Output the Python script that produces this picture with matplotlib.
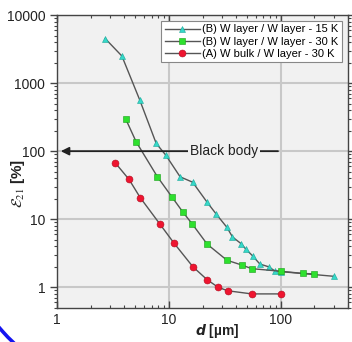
import matplotlib
matplotlib.use("Agg")
import matplotlib.pyplot as plt
from matplotlib.patches import Arc

# (B) W layer / W layer - 15 K
d_15k = [2.7, 3.8, 5.5, 7.7, 9.4, 12.6, 16.3, 22, 26.6, 33, 37, 44, 49, 56, 65, 78, 88, 100, 300]
e_15k = [4500, 2500, 560, 130, 87, 42, 35, 17.7, 11.8, 7.6, 5.5, 4.4, 3.6, 2.9, 2.2, 2.0, 1.75, 1.7, 1.45]

# (B) W layer / W layer - 30 K
d_30k = [4.1, 5.1, 7.9, 10.7, 13.4, 16.1, 22, 33, 45, 55, 100, 158, 200]
e_30k = [300, 137, 42, 21, 12.6, 8.6, 4.3, 2.5, 2.12, 1.88, 1.72, 1.6, 1.57]

# (A) W bulk / W layer - 30 K
d_bulk = [3.3, 4.4, 5.55, 8.35, 11, 16.4, 22, 27.6, 33.5, 55, 100]
e_bulk = [68, 38.5, 20.7, 8.4, 4.55, 2.0, 1.29, 1.0, 0.89, 0.8, 0.8]

labels = ["(B) W layer / W layer - 15 K",
          "(B) W layer / W layer - 30 K",
          "(A) W bulk / W layer - 30 K"]

black_body = 100

plt.rcParams["font.family"] = ["Liberation Sans", "DejaVu Sans"]

fig = plt.figure(figsize=(3.52, 3.42), dpi=100, facecolor="white")
ax = fig.add_axes([0.162, 0.10, 0.827, 0.856])
ax.set_facecolor("#f1f1f1")

line_kw = dict(color="#555555", lw=1.0, markersize=5, markeredgewidth=0.4)
ax.plot(d_15k, e_15k, marker="^", markerfacecolor="#35d8c8", markeredgecolor="#1aa89a",
        label=labels[0], **line_kw)
ax.plot(d_30k, e_30k, marker="s", markerfacecolor="#2ee02e", markeredgecolor="#18a018",
        label=labels[1], **line_kw)
ax.plot(d_bulk, e_bulk, marker="o", markerfacecolor="#ee1530", markeredgecolor="#b00d20",
        label=labels[2], **line_kw)

ax.set_xscale("log")
ax.set_yscale("log")
ax.set_xlim(1, 400)
ax.set_ylim(0.5, 10000)

ax.grid(True, which="major", color="#c8c8c8", lw=1.5, zorder=0)
ax.set_axisbelow(True)

# black body reference arrow
ax.annotate("", xy=(1.02, black_body), xytext=(100, black_body),
            arrowprops=dict(arrowstyle="-|>", color="#222222", lw=1.3,
                            mutation_scale=12))
ax.text(15.5, black_body, "Black body", fontsize=10, va="center", ha="left",
        color="#222222", bbox=dict(facecolor="#f1f1f1", edgecolor="none", pad=1.5))

for s in ax.spines.values():
    s.set_color("#444444")
    s.set_linewidth(1.0)

ax.tick_params(axis="both", which="both", colors="#444444", labelcolor="#222222",
               labelsize=10, top=True, right=True)
ax.tick_params(axis="both", which="major", length=5, width=1.0)
ax.tick_params(axis="both", which="minor", length=2.5, width=0.8)
ax.tick_params(axis="x", which="both", direction="in")
ax.set_xticks([1, 10, 100])
ax.set_xticklabels(["1", "10", "100"])
ax.set_yticks([1, 10, 100, 1000, 10000])
ax.set_yticklabels(["1", "10", "100", "1000", "10000"])

# axis titles placed by hand, like the original
fig.text(217 / 352, 1 - 331 / 342, r"$\mathbfit{d}$ [µm]", fontsize=10,
         fontweight="bold", ha="center", va="center", color="#222222")
fig.text(18 / 352, 1 - 183 / 342, r"$\mathcal{E}_{21}$ [%]", fontsize=11,
         fontweight="bold", ha="center", va="center", rotation=90,
         color="#222222", math_fontfamily="stix")

leg = ax.legend(loc="upper right", fontsize=8, frameon=True, fancybox=False,
                edgecolor="#888888", framealpha=1, facecolor="white",
                handlelength=3.2, handletextpad=0.2, borderpad=0.3,
                labelspacing=0.2, borderaxespad=0.55)
leg.get_frame().set_linewidth(0.8)

# blue arc fragment in the lower left corner
arc = Arc((150 / 352, 1 - 200 / 342), 2 * 197.5 / 352, 2 * 197.5 / 342,
          theta1=205, theta2=240, transform=fig.transFigure,
          color="#1414f0", lw=2.6, clip_on=False)
fig.patches.append(arc)

fig.savefig("out.png", dpi=100, facecolor=fig.get_facecolor())
